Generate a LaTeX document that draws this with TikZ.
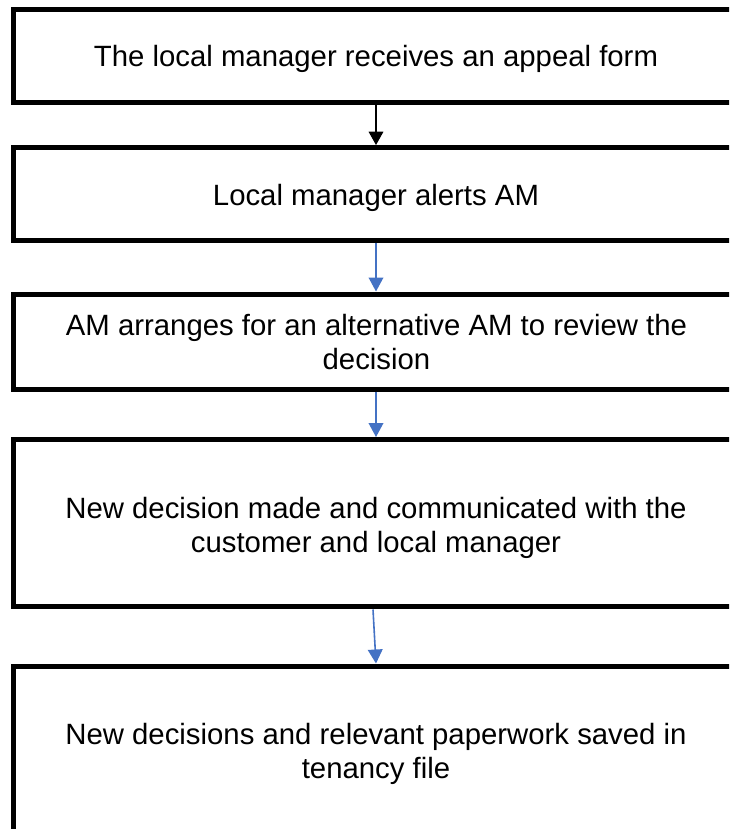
\documentclass[tikz,border=0pt]{standalone}
\usepackage{fontspec}
\setmainfont{Liberation Sans}
\usetikzlibrary{arrows.meta}
\definecolor{officeblue}{RGB}{68,114,196}
\begin{document}
\begin{tikzpicture}[x=0.75pt,y=-0.75pt,
  box/.style={draw=black,line width=3.75pt,rectangle,minimum width=543.75pt,inner sep=0pt},
  txt/.style={anchor=base,align=center,font=\fontsize{22}{25.5}\selectfont,inner sep=0pt},
  blackarrow/.style={draw=black,line width=0.9pt,-{Triangle[length=10pt,width=11pt]}},
  bluearrow/.style={draw=officeblue,line width=1.2pt,-{Triangle[length=10.5pt,width=11pt]}}]
\useasboundingbox (0,0) rectangle (729,829);
\clip (0,0) rectangle (729,829);
\node[box,minimum height=69.4pt] (b1) at (376,55.75) {};
\node[box,minimum height=70.1pt] (b2) at (376,194.25) {};
\node[box,minimum height=71.25pt] (b3) at (376,341.5) {};
\node[box,minimum height=125.6pt] (b4) at (376,523.25) {};
\node[box,minimum height=129pt] (b5) at (376,752) {};
\node[txt] (t1) at (376,66.7) {The local manager receives an appeal form};
\node[txt] (t2) at (376,205) {Local manager alerts AM};
\node[txt] (t3) at (376.5,369.7) {AM arranges for an alternative AM to review the\\decision};
\node[txt] (t4) at (376,552.3) {New decision made and communicated with the\\customer and local manager};
\node[txt] (t5) at (376,778.3) {New decisions and relevant paperwork saved in\\tenancy file};
\draw[blackarrow] (b1.south) -- (b2.north);
\draw[bluearrow] (b2.south) -- (b3.north);
\draw[bluearrow] (b3.south) -- (b4.north);
\draw[bluearrow] ([xshift=-2.25pt]b4.south) -- (b5.north);
\end{tikzpicture}
\end{document}
